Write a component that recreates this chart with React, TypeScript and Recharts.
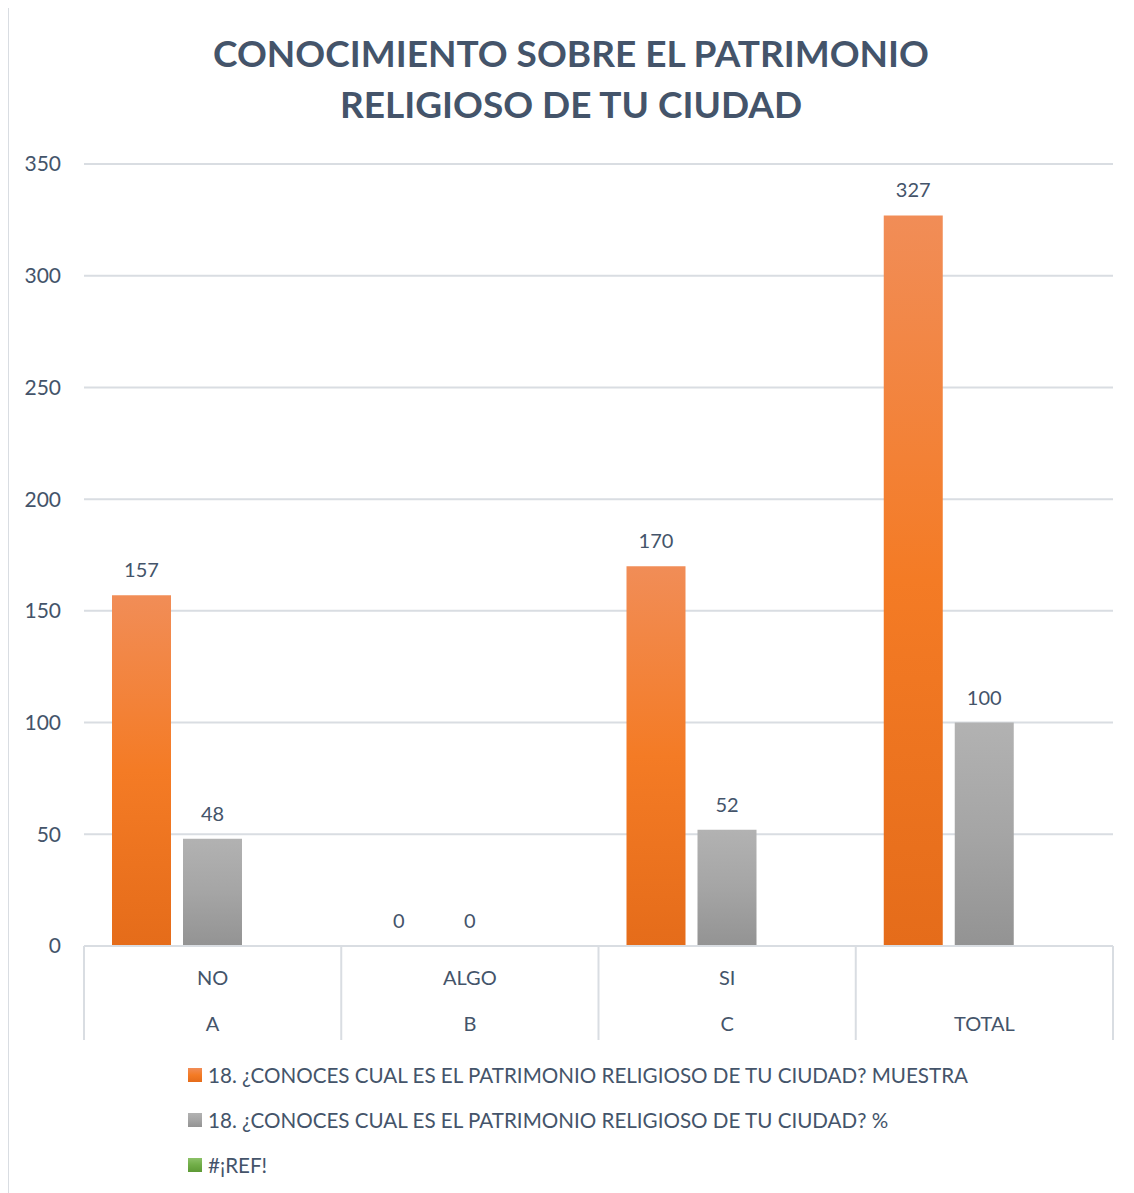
import React from "react";
import { BarChart, Bar, XAxis, YAxis, CartesianGrid, LabelList } from "recharts";

const respuestas = ["NO", "ALGO", "SI", ""];
const grupos = ["A", "B", "C", "TOTAL"];
const muestra = [157, 0, 170, 327];
const porcentaje = [48, 0, 52, 100];
const refError: (number | null)[] = [null, null, null, null];
const yTicks = [0, 50, 100, 150, 200, 250, 300, 350];

const serieMuestra = "18. ¿CONOCES CUAL ES EL PATRIMONIO RELIGIOSO DE TU CIUDAD? MUESTRA";
const seriePct = "18. ¿CONOCES CUAL ES EL PATRIMONIO RELIGIOSO DE TU CIUDAD? %";
const serieRef = "#¡REF!";

const data = grupos.map((g, i) => ({
  grupo: g,
  respuesta: respuestas[i],
  muestra: muestra[i],
  porcentaje: porcentaje[i],
  ref: refError[i],
}));

const FONT = "Lato, 'Open Sans', sans-serif";
const TEXT = "#44546a";
const GRID = "#d9dde2";

const W = 1126;
const H = 1185;
const M = { top: 156, right: 21, left: 16, bottom: 147 };
const PLOT_W = W - M.left - 60 - M.right;
const BAND = PLOT_W / grupos.length;

function TwoLevelTick(props: any) {
  const { x, index, payload } = props;
  // tick y comes in a few px below the axis line
  const y = props.y - 8;
  const left = x - BAND / 2;
  const right = x + BAND / 2;
  return (
    <g>
      <line x1={left} y1={y} x2={left} y2={y + 94} stroke={GRID} strokeWidth={2} />
      {index === grupos.length - 1 && (
        <line x1={right} y1={y} x2={right} y2={y + 94} stroke={GRID} strokeWidth={2} />
      )}
      <text x={x} y={y + 31} textAnchor="middle" dominantBaseline="central" fill={TEXT} fontSize={20} fontFamily={FONT}>
        {respuestas[index]}
      </text>
      <text x={x} y={y + 77} textAnchor="middle" dominantBaseline="central" fill={TEXT} fontSize={20} fontFamily={FONT}>
        {payload.value}
      </text>
    </g>
  );
}

const legendItems = [
  { name: serieMuestra, css: "linear-gradient(#f18d57, #f47b25, #e56c1a)" },
  { name: seriePct, css: "linear-gradient(#b2b2b2, #a5a5a5, #939393)" },
  { name: serieRef, css: "linear-gradient(#8cc168, #70ad47, #5e9a36)" },
];

export default function App() {
  return (
    <div style={{ position: "relative", width: W, height: H, fontFamily: FONT, background: "#fff" }}>
      <div
        style={{
          position: "absolute",
          left: -1,
          top: -2,
          width: W + 20,
          height: H + 20,
          borderLeft: `2px solid ${GRID}`,
          borderTop: `2px solid ${GRID}`,
          pointerEvents: "none",
        }}
      />
      <div
        style={{
          position: "absolute",
          left: 0,
          top: 19,
          width: W,
          textAlign: "center",
          color: TEXT,
          fontWeight: 700,
          fontSize: 37,
          lineHeight: "51px",
        }}
      >
        CONOCIMIENTO SOBRE EL PATRIMONIO
        <br />
        RELIGIOSO DE TU CIUDAD
      </div>
      <BarChart width={W} height={H} data={data} margin={M} barCategoryGap={28} barGap={12}>
        <defs>
          <linearGradient id="gradNaranja" x1="0" y1="0" x2="0" y2="1">
            <stop offset="0%" stopColor="#f18d57" />
            <stop offset="50%" stopColor="#f47b25" />
            <stop offset="100%" stopColor="#e56c1a" />
          </linearGradient>
          <linearGradient id="gradGris" x1="0" y1="0" x2="0" y2="1">
            <stop offset="0%" stopColor="#b2b2b2" />
            <stop offset="50%" stopColor="#a5a5a5" />
            <stop offset="100%" stopColor="#939393" />
          </linearGradient>
          <linearGradient id="gradVerde" x1="0" y1="0" x2="0" y2="1">
            <stop offset="0%" stopColor="#8cc168" />
            <stop offset="50%" stopColor="#70ad47" />
            <stop offset="100%" stopColor="#5e9a36" />
          </linearGradient>
        </defs>
        <CartesianGrid vertical={false} stroke={GRID} strokeWidth={2} />
        <XAxis
          dataKey="grupo"
          height={100}
          axisLine={{ stroke: GRID, strokeWidth: 2 }}
          tickLine={false}
          interval={0}
          tick={<TwoLevelTick />}
        />
        <YAxis
          width={60}
          domain={[0, 350]}
          ticks={yTicks}
          axisLine={false}
          tickLine={false}
          tickSize={0}
          tickMargin={23}
          tick={{ fill: TEXT, fontSize: 21, fontFamily: FONT }}
        />
        <Bar dataKey="muestra" name={serieMuestra} fill="url(#gradNaranja)" minPointSize={0.01} isAnimationActive={false}>
          <LabelList dataKey="muestra" position="top" offset={18} fill={TEXT} fontSize={20} fontFamily={FONT} />
        </Bar>
        <Bar dataKey="porcentaje" name={seriePct} fill="url(#gradGris)" minPointSize={0.01} isAnimationActive={false}>
          <LabelList dataKey="porcentaje" position="top" offset={18} fill={TEXT} fontSize={20} fontFamily={FONT} />
        </Bar>
        <Bar dataKey="ref" name={serieRef} fill="url(#gradVerde)" isAnimationActive={false} />
      </BarChart>
      <div style={{ position: "absolute", left: 180, top: 1044 }}>
        {legendItems.map((item) => (
          <div key={item.name} style={{ display: "flex", alignItems: "center", height: 45, color: TEXT, fontSize: 20.6 }}>
            <span style={{ width: 14, height: 14, background: item.css, marginRight: 6, display: "inline-block" }} />
            <span>{item.name}</span>
          </div>
        ))}
      </div>
    </div>
  );
}
